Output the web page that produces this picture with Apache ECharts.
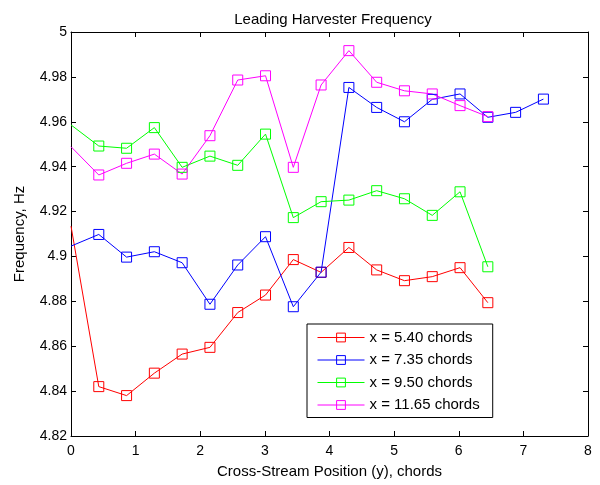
<!DOCTYPE html>
<html><head><meta charset="utf-8">
<script src="https://cdn.jsdelivr.net/npm/echarts@6/dist/echarts.min.js"></script>
<style>html,body{margin:0;padding:0;background:#fff}#c{width:600px;height:485px}</style>
</head><body><div id="c"></div>
<script>
const xPos = [0, 0.43, 0.86, 1.29, 1.72, 2.15, 2.58, 3.01, 3.44, 3.87, 4.30, 4.73, 5.16, 5.59, 6.02, 6.45, 6.88, 7.31];
const seriesNames = ['x = 5.40 chords', 'x = 7.35 chords', 'x = 9.50 chords', 'x = 11.65 chords'];
const colors = ['#ff0000', '#0000ff', '#00ff00', '#ff00ff'];
const red = [4.9135, 4.842, 4.838, 4.848, 4.8565, 4.8595, 4.875, 4.8828, 4.8986, 4.8929, 4.904, 4.894, 4.8892, 4.891, 4.895, 4.8794];
const blue = [4.9046, 4.9098, 4.8997, 4.9021, 4.8972, 4.8787, 4.8962, 4.9088, 4.8776, 4.893, 4.9753, 4.9664, 4.960, 4.970, 4.9724, 4.962, 4.9642, 4.9701];
const green = [4.9586, 4.9492, 4.9482, 4.9574, 4.9397, 4.9447, 4.9406, 4.9545, 4.9173, 4.9244, 4.9251, 4.9293, 4.9257, 4.9183, 4.9288, 4.8954];
const magenta = [4.9489, 4.9363, 4.9415, 4.9456, 4.9367, 4.9538, 4.9786, 4.9805, 4.9397, 4.9764, 4.9917, 4.9776, 4.9738, 4.9724, 4.9672, 4.9623];
const yTicks = {min: 4.82, max: 5, interval: 0.02};
const xTicks = {min: 0, max: 8, interval: 1};

const allY = [red, blue, green, magenta];
const font = 'Liberation Sans, Arial, sans-serif';

function mkData(ys) {
  return ys.map((v, i) => i === 0 ? {value: [xPos[i], v], symbol: 'none'} : [xPos[i], v]);
}

const series = allY.map((ys, k) => ({
  name: seriesNames[k],
  type: 'line',
  data: mkData(ys),
  symbol: 'rect',
  symbolSize: 10,
  showAllSymbol: true,
  lineStyle: {color: colors[k], width: 1},
  itemStyle: {color: 'rgba(255,255,255,0)', borderColor: colors[k], borderWidth: 1},
  emphasis: {disabled: true},
  animation: false,
  clip: true
}));

const axisCommon = {
  axisLine: {show: true, onZero: false, lineStyle: {color: '#000', width: 1}},
  axisTick: {show: true, inside: true, length: 5, lineStyle: {color: '#000'}},
  splitLine: {show: false},
};

const chart = echarts.init(document.getElementById('c'));
chart.setOption({
  backgroundColor: '#fff',
  animation: false,
  title: {
    text: 'Leading Harvester Frequency',
    left: 328, top: 7, textAlign: 'center',
    textStyle: {fontFamily: font, fontSize: 15, fontWeight: 'normal', color: '#000'}
  },
  grid: {left: 71, right: 12, top: 32, bottom: 49, containLabel: false},
  legend: {
    orient: 'vertical',
    left: 307, top: 324,
    padding: [6, 13, 5, 10],
    itemGap: 7.5,
    itemWidth: 47, itemHeight: 11,
    borderColor: '#000', borderWidth: 1,
    backgroundColor: '#fff',
    lineStyle: {width: 1},
    itemStyle: {borderWidth: 1},
    textStyle: {fontFamily: font, fontSize: 15, color: '#000'},
    data: seriesNames
  },
  xAxis: [
    Object.assign({}, axisCommon, {
      type: 'value', position: 'bottom', min: xTicks.min, max: xTicks.max, interval: xTicks.interval,
      name: 'Cross-Stream Position (y), chords', nameLocation: 'middle', nameGap: 28,
      nameTextStyle: {fontFamily: font, fontSize: 15, color: '#000'},
      axisLabel: {fontFamily: font, fontSize: 14, color: '#000', margin: 8}
    }),
    Object.assign({}, axisCommon, {
      type: 'value', position: 'top', min: xTicks.min, max: xTicks.max, interval: xTicks.interval,
      axisLabel: {show: false}
    })
  ],
  yAxis: [
    Object.assign({}, axisCommon, {
      type: 'value', position: 'left', min: yTicks.min, max: yTicks.max, interval: yTicks.interval,
      name: 'Frequency, Hz', nameLocation: 'middle', nameGap: 44,
      nameTextStyle: {fontFamily: font, fontSize: 15, color: '#000'},
      axisLabel: {fontFamily: font, fontSize: 14, color: '#000', margin: 4}
    }),
    Object.assign({}, axisCommon, {
      type: 'value', position: 'right', min: yTicks.min, max: yTicks.max, interval: yTicks.interval,
      axisLabel: {show: false}
    })
  ],
  series: series
});
</script></body></html>
